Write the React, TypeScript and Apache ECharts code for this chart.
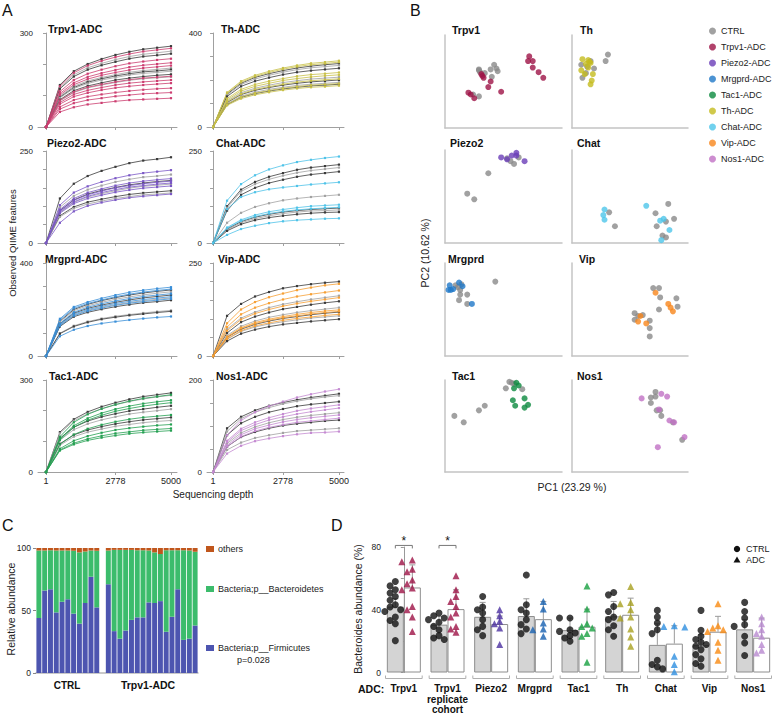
import React, { useEffect, useRef } from 'react';
import * as echarts from 'echarts';

const FONT = '"Liberation Sans", Arial, sans-serif';

// ---------------- Panel A: rarefaction curves ----------------
const rareDepths = [1, 556, 1112, 1667, 2223, 2778, 3334, 3889, 4445, 5000];
const rareStart = 0; // every curve starts at 0 features at depth 1
const rareDepthTicks = [1, 2778, 5000];
const rareTitles = ['Trpv1-ADC', 'Th-ADC', 'Piezo2-ADC', 'Chat-ADC', 'Mrgprd-ADC', 'Vip-ADC', 'Tac1-ADC', 'Nos1-ADC'];
const rareMax = [300, 400, 250, 250, 400, 250, 300, 200];
const rareInterval = [100, 100, 50, 50, 100, 50, 100, 50];

const trpv1Ctrl = [
  [134, 178, 201, 217, 230, 240, 248, 253, 258],
  [126, 167, 189, 203, 215, 225, 232, 237, 242],
  [122, 161, 183, 197, 208, 218, 225, 229, 234],
  [98, 130, 147, 158, 167, 175, 180, 184, 188],
  [95, 126, 143, 154, 163, 170, 176, 179, 183],
  [93, 123, 139, 150, 158, 166, 171, 174, 178],
  [87, 116, 131, 141, 150, 156, 161, 165, 168],
  [83, 110, 125, 134, 142, 149, 154, 157, 160],
];
const trpv1Adc = [
  [130, 173, 196, 211, 223, 233, 241, 246, 251],
  [113, 150, 170, 183, 194, 203, 209, 214, 218],
  [107, 141, 160, 172, 182, 191, 197, 201, 205],
  [102, 135, 153, 165, 174, 182, 188, 192, 196],
  [85, 112, 127, 136, 144, 151, 156, 159, 162],
  [78, 104, 117, 126, 134, 140, 144, 147, 150],
  [73, 97, 109, 118, 125, 130, 134, 137, 140],
  [64, 86, 97, 104, 110, 115, 119, 122, 124],
  [57, 76, 86, 92, 98, 102, 106, 108, 110],
  [48, 63, 72, 77, 82, 86, 88, 90, 92],
];
const thCtrl = [
  [140, 186, 211, 227, 240, 251, 259, 265, 270],
  [136, 181, 204, 220, 233, 244, 252, 257, 262],
  [130, 173, 195, 210, 223, 233, 240, 245, 250],
  [110, 146, 165, 178, 189, 197, 204, 208, 212],
  [104, 138, 156, 168, 178, 186, 192, 196, 200],
  [99, 131, 148, 160, 169, 177, 182, 186, 190],
  [95, 126, 142, 153, 162, 169, 175, 178, 182],
];
const thAdc = [
  [147, 195, 220, 237, 251, 262, 271, 276, 282],
  [144, 190, 215, 232, 246, 257, 265, 270, 276],
  [121, 160, 181, 195, 206, 216, 223, 227, 232],
  [115, 153, 173, 186, 198, 206, 213, 218, 222],
  [107, 141, 160, 172, 182, 191, 197, 201, 205],
  [96, 128, 144, 155, 165, 172, 178, 181, 185],
  [92, 121, 137, 148, 157, 164, 169, 172, 176],
];
const piezo2Ctrl = [
  [121, 161, 182, 196, 207, 217, 224, 228, 233],
  [97, 128, 145, 156, 166, 173, 179, 182, 186],
  [88, 117, 133, 143, 151, 158, 163, 167, 170],
  [83, 110, 125, 134, 142, 149, 154, 157, 160],
  [74, 98, 111, 119, 126, 132, 136, 139, 142],
  [71, 94, 106, 114, 121, 126, 131, 133, 136],
];
const piezo2Adc = [
  [103, 137, 154, 166, 176, 184, 190, 194, 198],
  [91, 121, 137, 147, 156, 163, 168, 172, 175],
  [87, 116, 131, 141, 150, 156, 161, 165, 168],
  [85, 112, 127, 137, 145, 152, 156, 160, 163],
  [81, 107, 121, 130, 138, 144, 149, 152, 155],
  [55, 86, 101, 110, 117, 123, 127, 130, 133],
];
const chatCtrl = [
  [100, 145, 166, 180, 190, 199, 205, 209, 213],
  [96, 140, 160, 173, 183, 191, 197, 201, 205],
  [88, 131, 150, 163, 172, 180, 186, 190, 194],
  [55, 82, 98, 108, 116, 121, 125, 128, 131],
  [38, 58, 70, 78, 84, 88, 91, 93, 95],
  [36, 55, 66, 74, 80, 84, 87, 88, 90],
  [33, 51, 62, 69, 74, 78, 81, 83, 84],
];
const chatAdc = [
  [115, 160, 184, 200, 211, 220, 226, 231, 235],
  [92, 125, 138, 146, 151, 155, 159, 162, 165],
  [42, 63, 76, 85, 91, 96, 100, 102, 104],
  [40, 60, 72, 80, 86, 90, 93, 95, 97],
  [22, 38, 47, 54, 59, 62, 64, 66, 67],
];
const mrgprdCtrl = [
  [150, 200, 222, 238, 251, 262, 271, 278, 284],
  [146, 195, 216, 231, 244, 254, 263, 270, 276],
  [138, 184, 205, 219, 231, 241, 250, 256, 262],
  [132, 176, 196, 210, 221, 230, 238, 244, 250],
  [127, 169, 188, 201, 212, 221, 229, 234, 240],
  [98, 130, 148, 161, 171, 178, 185, 191, 196],
  [96, 127, 145, 158, 167, 175, 181, 187, 192],
];
const mrgprdAdc = [
  [160, 211, 232, 248, 262, 274, 283, 290, 296],
  [155, 205, 226, 241, 255, 266, 275, 282, 288],
  [140, 188, 210, 225, 237, 247, 256, 262, 268],
  [135, 180, 200, 214, 226, 235, 243, 249, 255],
  [130, 173, 193, 206, 218, 227, 234, 240, 246],
  [85, 113, 129, 140, 148, 155, 161, 166, 170],
];
const vipCtrl = [
  [108, 140, 160, 172, 182, 188, 193, 197, 200],
  [72, 102, 118, 130, 139, 146, 152, 157, 162],
  [62, 91, 106, 117, 126, 132, 138, 143, 147],
  [55, 80, 94, 104, 111, 117, 122, 126, 130],
  [50, 72, 85, 94, 101, 106, 111, 115, 118],
  [45, 66, 78, 86, 92, 97, 102, 105, 108],
  [40, 60, 71, 79, 85, 89, 93, 96, 99],
];
const vipAdc = [
  [88, 125, 145, 158, 168, 177, 184, 190, 194],
  [78, 112, 130, 142, 152, 160, 166, 171, 176],
  [68, 98, 114, 125, 134, 141, 147, 152, 157],
  [52, 76, 90, 99, 106, 112, 117, 121, 124],
  [50, 74, 87, 96, 103, 108, 113, 117, 120],
  [46, 68, 81, 89, 96, 101, 105, 109, 112],
];
const tac1Ctrl = [
  [130, 172, 196, 213, 226, 237, 246, 252, 258],
  [126, 167, 190, 206, 219, 230, 238, 245, 250],
  [110, 146, 166, 180, 190, 199, 205, 211, 216],
  [104, 138, 157, 170, 180, 189, 195, 200, 205],
  [92, 121, 137, 148, 157, 164, 170, 174, 178],
  [87, 115, 130, 140, 149, 155, 161, 165, 168],
];
const tac1Adc = [
  [115, 162, 188, 206, 220, 231, 240, 246, 252],
  [108, 151, 175, 192, 205, 215, 223, 229, 234],
  [104, 146, 169, 185, 198, 207, 215, 221, 226],
  [90, 122, 141, 154, 164, 172, 178, 182, 186],
  [76, 102, 117, 128, 137, 143, 148, 152, 155],
  [72, 94, 108, 118, 126, 131, 136, 139, 142],
  [70, 90, 103, 112, 119, 125, 129, 132, 135],
];
const nos1Ctrl = [
  [95, 120, 134, 144, 151, 157, 162, 166, 170],
  [88, 116, 130, 140, 148, 154, 159, 163, 166],
  [80, 106, 120, 130, 137, 143, 147, 150, 153],
  [62, 85, 98, 107, 114, 119, 123, 126, 129],
  [55, 76, 87, 95, 101, 105, 108, 111, 113],
  [48, 64, 74, 80, 85, 89, 91, 93, 95],
];
const nos1Adc = [
  [80, 112, 130, 143, 153, 162, 169, 175, 180],
  [68, 94, 108, 118, 126, 133, 138, 142, 146],
  [65, 90, 103, 113, 120, 126, 131, 135, 139],
  [58, 81, 94, 102, 109, 114, 118, 121, 124],
  [55, 77, 89, 97, 103, 108, 111, 114, 117],
  [40, 57, 67, 73, 78, 82, 85, 86, 88],
];
const rareCtrl = [trpv1Ctrl, thCtrl, piezo2Ctrl, chatCtrl, mrgprdCtrl, vipCtrl, tac1Ctrl, nos1Ctrl];
const rareAdc = [trpv1Adc, thAdc, piezo2Adc, chatAdc, mrgprdAdc, vipAdc, tac1Adc, nos1Adc];

// ---------------- Panel B: PCoA ----------------
const pcaTitles = ['Trpv1', 'Th', 'Piezo2', 'Chat', 'Mrgprd', 'Vip', 'Tac1', 'Nos1'];
const pcaTrpv1Ctrl = [[29, 62], [30, 60], [34, 59], [39, 63], [42, 68], [44, 64], [45, 61], [40, 55], [24, 36], [29, 34], [29, 63]];
const pcaTrpv1Adc = [[20, 38], [22, 36], [25, 32], [31, 58], [32, 56], [33, 54], [39, 50], [37, 44], [48, 39], [72, 77], [71, 72], [75, 72], [75, 65], [80, 60], [84, 54]];
const pcaThCtrl = [[31, 79], [29, 72], [8, 68], [12, 59], [9, 54], [19, 64], [16, 72], [13, 66]];
const pcaThAdc = [[9, 74], [14, 73], [16, 70], [12, 69], [14, 65], [8, 62], [11, 58], [18, 58], [17, 51], [16, 47], [15, 71]];
const pcaPiezo2Ctrl = [[37, 75], [19, 53], [25, 47], [63, 92], [59, 85], [56, 88], [53, 91]];
const pcaPiezo2Adc = [[48, 92], [53, 90], [57, 94], [61, 97], [61, 94], [68, 88]];
const pcaChatCtrl = [[32, 33], [37, 18], [83, 42], [72, 32], [88, 26], [81, 23], [73, 18], [78, 8], [81, 6]];
const pcaChatAdc = [[28, 36], [27, 30], [28, 25], [64, 40], [76, 24], [79, 26], [84, 14], [77, 3]];
const pcaMrgprdCtrl = [[9, 76], [11, 74], [13, 71], [14, 77], [13, 66], [19, 66], [12, 60], [19, 56], [43, 80]];
const pcaMrgprdAdc = [[4, 76], [3, 71], [5, 71], [7, 72], [12, 79], [15, 75], [23, 56]];
const pcaVipCtrl = [[70, 73], [75, 73], [76, 63], [75, 50], [90, 62], [91, 53], [54, 46], [57, 43], [61, 44], [54, 39], [67, 38], [67, 30], [67, 21]];
const pcaVipAdc = [[72, 68], [83, 56], [85, 52], [87, 48], [59, 43], [57, 37], [64, 35]];
const pcaTac1Ctrl = [[8, 61], [16, 54], [29, 67], [34, 72], [52, 91], [55, 98], [57, 97], [59, 96], [66, 90]];
const pcaTac1Adc = [[59, 91], [61, 97], [63, 94], [58, 78], [60, 72], [68, 80], [71, 73], [68, 70]];
const pcaNos1Ctrl = [[72, 87], [68, 81], [72, 82], [68, 75], [73, 67], [76, 67], [77, 61], [87, 54], [95, 35]];
const pcaNos1Adc = [[60, 80], [77, 85], [82, 82], [75, 68], [84, 56], [88, 54], [97, 38], [74, 27]];
const pcaCtrl = [pcaTrpv1Ctrl, pcaThCtrl, pcaPiezo2Ctrl, pcaChatCtrl, pcaMrgprdCtrl, pcaVipCtrl, pcaTac1Ctrl, pcaNos1Ctrl];
const pcaAdc = [pcaTrpv1Adc, pcaThAdc, pcaPiezo2Adc, pcaChatAdc, pcaMrgprdAdc, pcaVipAdc, pcaTac1Adc, pcaNos1Adc];
const legendNames = ['CTRL', 'Trpv1-ADC', 'Piezo2-ADC', 'Mrgprd-ADC', 'Tac1-ADC', 'Th-ADC', 'Chat-ADC', 'Vip-ADC', 'Nos1-ADC'];

// ---------------- Panel C: phylum composition ----------------
const cCtrlFirmicutes = [44, 66, 67, 48.5, 57, 59, 47.5, 39.5, 56, 77, 52.5];
const cCtrlBacteroidetes = [54, 32, 31.2, 49.5, 41, 39, 50.3, 57, 41.2, 21, 45.3];
const cCtrlOthers = [2, 2, 1.8, 2, 2, 2, 2.2, 3.5, 2.8, 2, 2.2];
const cAdcFirmicutes = [71, 33.5, 27.5, 34, 42.5, 44.5, 44.5, 56.5, 56, 57.5, 33, 45, 67, 26.5, 27.5, 38];
const cAdcBacteroidetes = [27, 65, 71, 64.5, 56, 53.7, 53.7, 41.5, 40.5, 37.7, 65.2, 53.2, 31.2, 71.7, 70.5, 59];
const cAdcOthers = [2, 1.5, 1.5, 1.5, 1.5, 1.8, 1.8, 2, 3.5, 4.8, 1.8, 1.8, 1.8, 1.8, 2, 3];

// ---------------- Panel D: Bacteroides abundance ----------------
const dGroups = ['Trpv1', 'Trpv1\nreplicate\ncohort', 'Piezo2', 'Mrgprd', 'Tac1', 'Th', 'Chat', 'Vip', 'Nos1'];
const dCtrlMean = [42, 30.5, 35.5, 36, 27, 35.8, 17.6, 17.4, 27.5];
const dAdcMean = [54.2, 40.4, 30.9, 34, 29.2, 36.8, 18.4, 26, 22.2];
const dCtrlUpper = [47, 35.8, 44.7, 47, 34.7, 45.3, 31, 24.1, 33.7];
const dAdcUpper = [68.6, 52.7, 36, 45.3, 40.4, 47.4, 29.8, 35.8, 34.7];
const dCtrlPts = [
  [58, 55.2, 52.7, 50.6, 48.5, 46, 43.2, 41.7, 40, 38.9, 35.3, 33.2, 31.1, 20.3],
  [37.9, 36.2, 34.7, 33.7, 32, 29.4, 27.3, 23.5, 22, 21],
  [48.5, 41.7, 40, 37.9, 33.7, 29.4, 27.3, 23.5],
  [62.2, 43.2, 40, 37.9, 33.7, 30.5, 27.7, 24.8],
  [34.7, 34.7, 27.3, 26.2, 25.2, 23.5, 22, 19.9],
  [51, 49.5, 42.1, 38.9, 35.3, 33.7, 29.8, 27.3, 23.1],
  [39.6, 35.3, 31.5, 27.3, 24.8, 7.8, 5.1, 3.6, 2.3],
  [39.6, 26.9, 23.1, 21, 19.3, 17.8, 16.7, 14.6, 11.4, 8.7, 5.7, 4],
  [44.7, 38.9, 34.7, 30.5, 29.4, 23.1, 18.8, 10.8],
];
const dAdcPts = [
  [71.7, 70.6, 65.8, 64.3, 59, 56.5, 53.8, 52.7, 42.1, 40, 35.3, 26.2],
  [61.6, 52.7, 48.5, 45.3, 42.1, 37.9, 35.3, 29.4, 27.7, 25.6],
  [40, 36.2, 32.6, 31.1, 28.4, 17.8],
  [45.3, 40.4, 31.5, 27.7, 27.3, 23.1],
  [55.2, 40.4, 31.1, 29.4, 28.4, 24.8, 23.1, 6.6],
  [54.8, 44.7, 43.8, 40, 35.3, 34.7, 27.7, 22.6, 16.7],
  [29.8, 29.4, 29, 10.4, 5.1, 0.5],
  [43.8, 29.8, 28.4, 27.3, 26.2, 19.3, 14.2, 7.8],
  [35.3, 31.1, 27.3, 24.8, 23.1, 17.8, 14.2, 12.5],
];
const dSigGroups = [0, 1];
const dSigLevel = 81;

// ---------------- styling / layout ----------------
const colorsA = ['#cc3d70', '#c8c048', '#7b58c6', '#4fc3e8', '#3a8fd8', '#f6a035', '#25a052', '#c58bd2'];
const colorsB = ['#9e1346', '#c4bb1e', '#6a3db8', '#4ec6ea', '#1f78c8', '#f7861c', '#0b8a3e', '#c070c4'];
const colorsD = ['#9e1346', '#9e1346', '#4b2fa0', '#1660b0', '#17a040', '#a8a020', '#2e8ee0', '#f98a10', '#b888d0'];
const rowTop = [33, 151, 263, 380];
const rowH = [94, 92, 93, 92];
const aLeft = [38, 207];
const aWidth = [139, 137];
const aXMin = [-320, -240];
const aXMax = [5240, 5200];
const aTitlePos = [[48, 29], [221, 29], [47, 143], [216, 143], [45, 259], [218, 259], [49, 376], [216, 376]];
const bLeft = [445, 572];
const bWidth = [117, 116];
const bTop = [35, 150, 263, 380];
const bH = [93, 93, 93, 92];
const bTitlePos = [[452, 30], [580, 30], [450, 143], [577, 143], [448, 259], [579, 259], [452, 376], [577, 376]];

function txt(text: string, x: number, y: number, size: number, opts: any = {}) {
  return {
    type: 'text',
    x,
    y,
    rotation: opts.rotation || 0,
    silent: true,
    style: {
      text,
      fill: opts.fill || '#111',
      font: `${opts.bold ? 'bold ' : ''}${size}px ${FONT}`,
      textAlign: opts.align || 'left',
      textVerticalAlign: 'middle',
    },
  };
}

function swarm(vals: number[], center: number, pxX: number, pxY: number, size: number) {
  const placed: number[][] = [];
  const offs = [0, -1, 1, -2, 2];
  for (const v of vals) {
    let done = false;
    for (const o of offs) {
      const x = center + (o * size * 0.75) / pxX;
      const ok = placed.every(([px, py]) => Math.hypot((px - x) * pxX, (py - v) * pxY) >= size * 0.8);
      if (ok) {
        placed.push([x, v]);
        done = true;
        break;
      }
    }
    if (!done) placed.push([center, v]);
  }
  return placed;
}

function buildOption() {
  const grid: any[] = [];
  const xAxis: any[] = [];
  const yAxis: any[] = [];
  const series: any[] = [];
  const graphic: any[] = [];

  // ---- Panel A
  for (let i = 0; i < 8; i++) {
    const col = i % 2;
    const row = Math.floor(i / 2);
    const gi = grid.length;
    grid.push({ left: aLeft[col], top: rowTop[row], width: aWidth[col], height: rowH[row] });
    xAxis.push({
      gridIndex: gi,
      type: 'value',
      min: aXMin[col],
      max: aXMax[col],
      splitLine: { show: false },
      axisLine: { lineStyle: { color: '#a0a0a0', width: 1 } },
      axisTick: { customValues: rareDepthTicks, length: 3, lineStyle: { color: '#a0a0a0' } },
      axisLabel: {
        show: row === 3, customValues: rareDepthTicks, fontSize: 9, color: '#222', margin: 4, fontFamily: FONT,
        formatter: (v: number) => String(v),
      },
    });
    const max = rareMax[i];
    yAxis.push({
      gridIndex: gi,
      type: 'value',
      min: 0,
      max,
      interval: rareInterval[i],
      splitLine: { show: false },
      axisLine: { show: true, lineStyle: { color: '#a0a0a0', width: 1 } },
      axisTick: { show: true, length: 3, lineStyle: { color: '#a0a0a0' } },
      axisLabel: {
        fontSize: 8,
        color: '#222',
        margin: 5,
        fontFamily: FONT,
        formatter: (v: number) => (v === 0 || v === max ? String(v) : ''),
      },
    });
    const mk = (curve: number[]) => rareDepths.map((d, k) => [d, k === 0 ? rareStart : curve[k - 1]]);
    rareCtrl[i].forEach((c, k) => {
      const color = k % 2 === 0 ? '#3a3a3a' : '#a2a2a2';
      series.push({
        type: 'line', name: `a-ctrl-${i}-${k}`, xAxisIndex: gi, yAxisIndex: gi, data: mk(c),
        symbol: 'rect', symbolSize: 2.2, silent: true,
        lineStyle: { width: 0.8, color }, itemStyle: { color },
      });
    });
    rareAdc[i].forEach((c, k) => {
      series.push({
        type: 'line', name: `a-adc-${i}-${k}`, xAxisIndex: gi, yAxisIndex: gi, data: mk(c),
        symbol: 'rect', symbolSize: 2.2, silent: true,
        lineStyle: { width: 0.8, color: colorsA[i] }, itemStyle: { color: colorsA[i] },
      });
    });
    graphic.push(txt(rareTitles[i], aTitlePos[i][0], aTitlePos[i][1], 10.5, { bold: true }));
  }

  // ---- Panel B
  for (let i = 0; i < 8; i++) {
    const col = i % 2;
    const row = Math.floor(i / 2);
    const gi = grid.length;
    grid.push({ left: bLeft[col], top: bTop[row], width: bWidth[col], height: bH[row] });
    const ax = {
      gridIndex: gi, type: 'value', min: 0, max: 100,
      splitLine: { show: false }, axisTick: { show: false }, axisLabel: { show: false },
      axisLine: { show: true, onZero: false, lineStyle: { color: '#c4c4c4', width: 1.5 } },
    };
    xAxis.push({ ...ax });
    yAxis.push({ ...ax });
    series.push({
      type: 'scatter', name: 'CTRL', xAxisIndex: gi, yAxisIndex: gi, data: pcaCtrl[i],
      symbolSize: 6, itemStyle: { color: '#8a8a8a' }, silent: true,
    });
    series.push({
      type: 'scatter', name: `${pcaTitles[i]}-ADC`, xAxisIndex: gi, yAxisIndex: gi, data: pcaAdc[i],
      symbolSize: 6, itemStyle: { color: colorsB[i] }, silent: true,
    });
    graphic.push(txt(pcaTitles[i], bTitlePos[i][0], bTitlePos[i][1], 10.5, { bold: true }));
  }

  // ---- Panel C
  const cGi = grid.length;
  grid.push({ left: 36, top: 548, width: 162, height: 125 });
  const cCats = [
    ...cCtrlFirmicutes.map((_, k) => `CTRL ${k + 1}`),
    'gap',
    ...cAdcFirmicutes.map((_, k) => `Trpv1-ADC ${k + 1}`),
  ];
  xAxis.push({
    gridIndex: cGi, type: 'category', data: cCats,
    axisLine: { lineStyle: { color: '#b8b8b8', width: 1.5 } }, axisTick: { show: false }, axisLabel: { show: false },
  });
  yAxis.push({
    gridIndex: cGi, type: 'value', min: 0, max: 100, interval: 50, splitLine: { show: false },
    axisLine: { show: false }, axisTick: { show: true, length: 3, lineStyle: { color: '#888' } },
    axisLabel: { fontSize: 8.5, color: '#222', margin: 5, fontFamily: FONT },
  });
  const cJoin = (a: number[], b: number[]) => [...a, '-', ...b];
  const cBar = (name: string, data: any[], color: string) => ({
    type: 'bar', name, stack: 'phylum', xAxisIndex: cGi, yAxisIndex: cGi, data,
    barCategoryGap: '14%', itemStyle: { color }, silent: true,
  });
  series.push(cBar('Bacteria;p__Firmicutes', cJoin(cCtrlFirmicutes, cAdcFirmicutes), '#4d55b0'));
  series.push(cBar('Bacteria;p__Bacteroidetes', cJoin(cCtrlBacteroidetes, cAdcBacteroidetes), '#3cbc6c'));
  series.push(cBar('others', cJoin(cCtrlOthers, cAdcOthers), '#c0561c'));

  // ---- Panel D
  const dGi = grid.length;
  grid.push({ left: 382, top: 547, width: 393, height: 126 });
  const dCatX = xAxis.length;
  xAxis.push({
    gridIndex: dGi, type: 'category', data: dGroups,
    axisLine: { show: false }, axisTick: { show: false },
    axisLabel: { interval: 0, fontSize: 10, fontWeight: 'bold', color: '#111', margin: 11, lineHeight: 10.5, fontFamily: FONT },
  });
  const dValX = xAxis.length;
  xAxis.push({ gridIndex: dGi, type: 'value', min: -0.5, max: 8.5, show: false });
  const dY = yAxis.length;
  yAxis.push({
    gridIndex: dGi, type: 'value', min: 0, max: 80, interval: 20, offset: -4, splitLine: { show: false },
    axisLine: { show: true, lineStyle: { color: '#999' } },
    axisTick: { show: true, length: 3, lineStyle: { color: '#999' } },
    axisLabel: { fontSize: 8.5, color: '#222', margin: 5, fontFamily: FONT, formatter: (v: number) => (v % 40 === 0 ? String(v) : '') },
  });
  const barW = 17;
  const pxX = 393 / 9;
  const pxY = 126 / 80;
  const half = barW / 2 / pxX;
  series.push({
    type: 'bar', name: 'd-ctrl-mean', xAxisIndex: dCatX, yAxisIndex: dY, data: dCtrlMean,
    barWidth: barW, barGap: '0%', silent: true, z: 2,
    itemStyle: { color: '#d4d4d4', borderColor: '#8e8e8e', borderWidth: 1 },
  });
  series.push({
    type: 'bar', name: 'd-adc-mean', xAxisIndex: dCatX, yAxisIndex: dY, data: dAdcMean,
    barWidth: barW, barGap: '0%', silent: true, z: 2,
    itemStyle: { color: '#ffffff', borderColor: '#8e8e8e', borderWidth: 1 },
  });
  const errData: number[][] = [];
  dGroups.forEach((_, i) => {
    errData.push([i - half, dCtrlMean[i], dCtrlUpper[i]]);
    errData.push([i + half, dAdcMean[i], dAdcUpper[i]]);
  });
  series.push({
    type: 'custom', name: 'd-err', xAxisIndex: dValX, yAxisIndex: dY, data: errData, z: 3, silent: true,
    encode: { x: 0, y: [1, 2] },
    renderItem: (_p: any, api: any) => {
      const x = api.value(0);
      const a = api.coord([x, api.value(1)]);
      const b = api.coord([x, api.value(2)]);
      return {
        type: 'group',
        children: [
          { type: 'line', shape: { x1: a[0], y1: a[1], x2: b[0], y2: b[1] }, style: { stroke: '#9a9a9a', lineWidth: 1 } },
          { type: 'line', shape: { x1: b[0] - 3, y1: b[1], x2: b[0] + 3, y2: b[1] }, style: { stroke: '#9a9a9a', lineWidth: 1 } },
        ],
      };
    },
  });
  // group underlines
  series.push({
    type: 'custom', name: 'd-under', xAxisIndex: dValX, yAxisIndex: dY, clip: false, silent: true,
    data: dGroups.map((_, i) => [i - 0.42, i + 0.42, 0]),
    encode: { x: [0, 1], y: 2 },
    renderItem: (_p: any, api: any) => {
      const a = api.coord([api.value(0), 0]);
      const b = api.coord([api.value(1), 0]);
      const y = a[1] + 6;
      return {
        type: 'polyline',
        shape: { points: [[a[0], y - 3], [a[0], y], [b[0], y], [b[0], y - 3]] },
        style: { stroke: '#b0b0b0', fill: null, lineWidth: 1 },
      };
    },
  });
  // significance brackets
  series.push({
    type: 'custom', name: 'd-sig', xAxisIndex: dValX, yAxisIndex: dY, clip: false, silent: true, z: 5,
    data: dSigGroups.map((i) => [i - half, i + half, dSigLevel]),
    encode: { x: [0, 1], y: 2 },
    renderItem: (_p: any, api: any) => {
      const a = api.coord([api.value(0), api.value(2)]);
      const b = api.coord([api.value(1), api.value(2)]);
      return {
        type: 'group',
        children: [
          {
            type: 'polyline',
            shape: { points: [[a[0], a[1] + 3], [a[0], a[1]], [b[0], b[1]], [b[0], b[1] + 3]] },
            style: { stroke: '#777', fill: null, lineWidth: 1 },
          },
          {
            type: 'text',
            style: {
              text: '*', x: (a[0] + b[0]) / 2, y: a[1] + 2, textAlign: 'center', textVerticalAlign: 'bottom',
              fill: '#111', font: `12px ${FONT}`,
            },
          },
        ],
      };
    },
  });
  const ctrlPts: any[] = [];
  const adcPts: any[] = [];
  dGroups.forEach((_, i) => {
    swarm(dCtrlPts[i], i - half, pxX, pxY, 7).forEach((p) => ctrlPts.push(p));
    swarm(dAdcPts[i], i + half, pxX, pxY, 7).forEach((p) => adcPts.push({ value: p, itemStyle: { color: colorsD[i] } }));
  });
  series.push({
    type: 'scatter', name: 'd-ctrl', xAxisIndex: dValX, yAxisIndex: dY, data: ctrlPts, z: 4, silent: true,
    symbol: 'circle', symbolSize: 7, itemStyle: { color: '#111' },
  });
  series.push({
    type: 'scatter', name: 'd-adc', xAxisIndex: dValX, yAxisIndex: dY, data: adcPts, z: 4, silent: true,
    symbol: 'triangle', symbolSize: 7,
  });

  // ---- texts & legends
  graphic.push(txt('A', 2, 10, 16));
  graphic.push(txt('B', 410, 10, 16));
  graphic.push(txt('C', 2, 525, 16));
  graphic.push(txt('D', 331, 525, 16));
  graphic.push(txt('Observed QIIME features', 12, 243, 9.5, { rotation: Math.PI / 2, align: 'center', fill: '#222' }));
  graphic.push(txt('Sequencing depth', 213, 494, 10, { align: 'center', fill: '#222' }));
  graphic.push(txt('PC2 (10.62 %)', 425, 253, 10.5, { rotation: Math.PI / 2, align: 'center', fill: '#222' }));
  graphic.push(txt('PC1 (23.29 %)', 572, 487, 10.5, { align: 'center', fill: '#222' }));
  graphic.push(txt('Relative abundance', 11, 609, 10.5, { rotation: Math.PI / 2, align: 'center', fill: '#222' }));
  graphic.push(txt('CTRL', 67, 685, 10, { bold: true, align: 'center' }));
  graphic.push(txt('Trpv1-ADC', 148, 685, 10.5, { bold: true, align: 'center' }));
  graphic.push({ type: 'rect', shape: { x: 206, y: 546, width: 8, height: 6 }, style: { fill: '#c0561c' }, silent: true });
  graphic.push({ type: 'rect', shape: { x: 206, y: 586, width: 8, height: 6 }, style: { fill: '#3cbc6c' }, silent: true });
  graphic.push({ type: 'rect', shape: { x: 206, y: 645, width: 8, height: 6 }, style: { fill: '#4d55b0' }, silent: true });
  graphic.push(txt('others', 218, 549, 9, { fill: '#222' }));
  graphic.push(txt('Bacteria;p__Bacteroidetes', 218, 589, 9, { fill: '#222' }));
  graphic.push(txt('Bacteria;p__Firmicutes', 218, 648, 9, { fill: '#222' }));
  graphic.push(txt('p=0.028', 237, 660, 9, { fill: '#222' }));
  graphic.push(txt('Bacteroides abundance (%)', 358, 609, 10.5, { rotation: Math.PI / 2, align: 'center', fill: '#222' }));
  graphic.push(txt('ADC:', 358, 689, 10.5, { bold: true }));
  graphic.push({ type: 'circle', shape: { cx: 737, cy: 549, r: 3.2 }, style: { fill: '#111' }, silent: true });
  graphic.push({ type: 'polygon', shape: { points: [[737, 556.5], [740.5, 562.5], [733.5, 562.5]] }, style: { fill: '#111' }, silent: true });
  graphic.push(txt('CTRL', 746, 549, 9, { fill: '#222' }));
  graphic.push(txt('ADC', 746, 560, 9, { fill: '#222' }));

  return {
    animation: false,
    backgroundColor: '#ffffff',
    textStyle: { fontFamily: FONT },
    grid,
    xAxis,
    yAxis,
    series,
    graphic,
    legend: {
      data: legendNames,
      orient: 'vertical',
      left: 709,
      top: 25,
      padding: 0,
      icon: 'circle',
      itemWidth: 7,
      itemHeight: 7,
      itemGap: 4,
      selectedMode: false,
      textStyle: { fontSize: 9, color: '#222', lineHeight: 12, fontFamily: FONT },
    },
  };
}

export default function App() {
  const ref = useRef<HTMLDivElement>(null);
  useEffect(() => {
    document.body.style.margin = '0';
    if (!ref.current) return;
    const chart = echarts.init(ref.current, null, { renderer: 'svg' });
    chart.setOption(buildOption() as any);
    return () => chart.dispose();
  }, []);
  return <div ref={ref} style={{ width: 777, height: 715 }} />;
}
